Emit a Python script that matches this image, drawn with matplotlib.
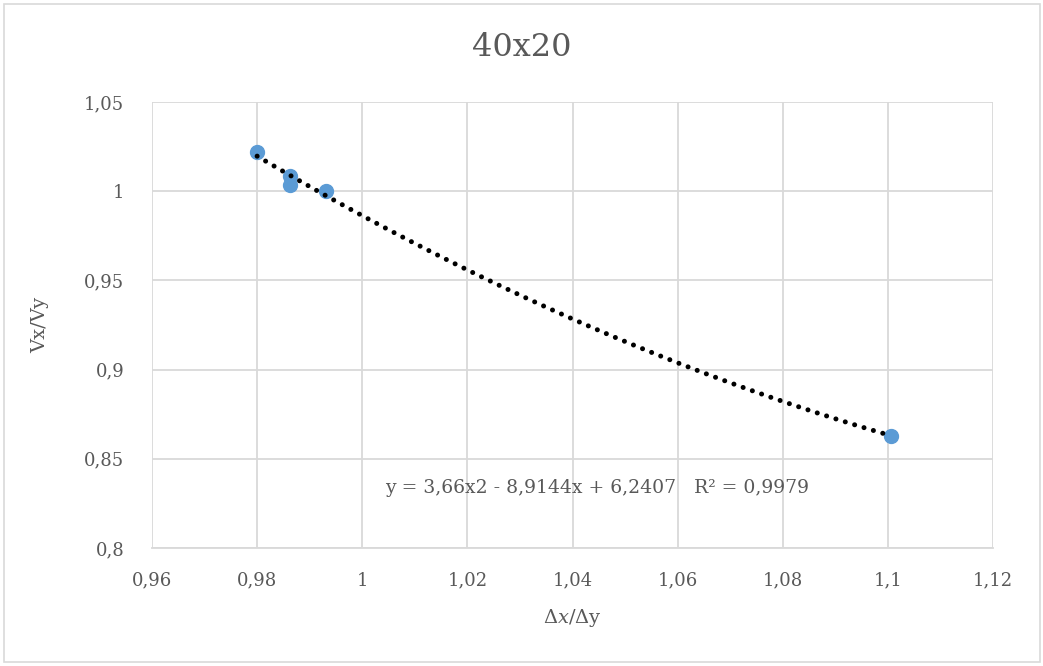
import numpy as np
import matplotlib.pyplot as plt
from matplotlib.patches import Rectangle

# Messpunkte
dx_dy = [0.98, 0.9863, 0.9863, 0.9931, 1.1006]
vx_vy = [1.022, 1.0085, 1.0035, 1.0000, 0.8628]

# Trendlinie Polynom 2. Ordnung (Koeffizienten wie im Diagramm)
koeff = [3.66, -8.9144, 6.2407]
gleichung = "y = 3,66x2 - 8,9144x + 6,2407   R² = 0,9979"

xticks = [0.96, 0.98, 1.0, 1.02, 1.04, 1.06, 1.08, 1.1, 1.12]
yticks = [0.8, 0.85, 0.9, 0.95, 1.0, 1.05]

grau = '#595959'
gitter = '#d9d9d9'
blau = '#5b9bd5'

plt.rcParams['font.family'] = ['DejaVu Serif']
plt.rcParams['mathtext.fontset'] = 'dejavuserif'

fig = plt.figure(figsize=(10.43, 6.66), dpi=100)
fig.patches.append(Rectangle((4/1043, 4/666), 1036/1043, 658/666, transform=fig.transFigure,
                             fill=False, edgecolor=gitter, linewidth=1.2))
ax = fig.add_axes([152/1043, 118/666, 841/1043, 446/666])

ax.set_xlim(0.96, 1.12)
ax.set_ylim(0.8, 1.05)
ax.set_xticks(xticks)
ax.set_yticks(yticks)
ax.set_xticklabels([f'{v:g}'.replace('.', ',') for v in xticks])
ax.set_yticklabels([f'{v:g}'.replace('.', ',') for v in yticks])
ax.grid(True, color=gitter, linewidth=1.3)
ax.set_axisbelow(True)
for s in ['top', 'right', 'left']:
    ax.spines[s].set_visible(False)
ax.spines['bottom'].set_color(gitter)
ax.spines['bottom'].set_linewidth(1.3)
ax.tick_params(length=0, labelsize=13, colors=grau)
ax.tick_params(axis='x', pad=17)
ax.tick_params(axis='y', pad=20)

ax.plot(dx_dy, vx_vy, 'o', color=blau, markersize=10, zorder=3)

# gepunktete Trendlinie
xs = np.linspace(min(dx_dy), max(dx_dy), 200)
ax.plot(xs, np.polyval(koeff, xs), color='black', linewidth=3.6,
        linestyle=(0, (0.01, 1.95)), dash_capstyle='round', zorder=4)

ax.text((385 - 152) / 841, (666 - 488 - 118) / 446, gleichung, fontsize=13.5, color=grau,
        ha='left', va='center', transform=ax.transAxes)

fig.text(0.5, (666 - 48) / 666, '40x20', fontsize=23, color=grau, ha='center', va='center')
fig.text(40 / 1043, (666 - 325) / 666, 'Vx/Vy', fontsize=14, color=grau, rotation=90,
         ha='center', va='center')
fig.text(572 / 1043, (666 - 618) / 666, r'$\Delta x$/$\Delta$y', fontsize=14, color=grau,
         ha='center', va='center')

plt.savefig('out.png', dpi=100)
